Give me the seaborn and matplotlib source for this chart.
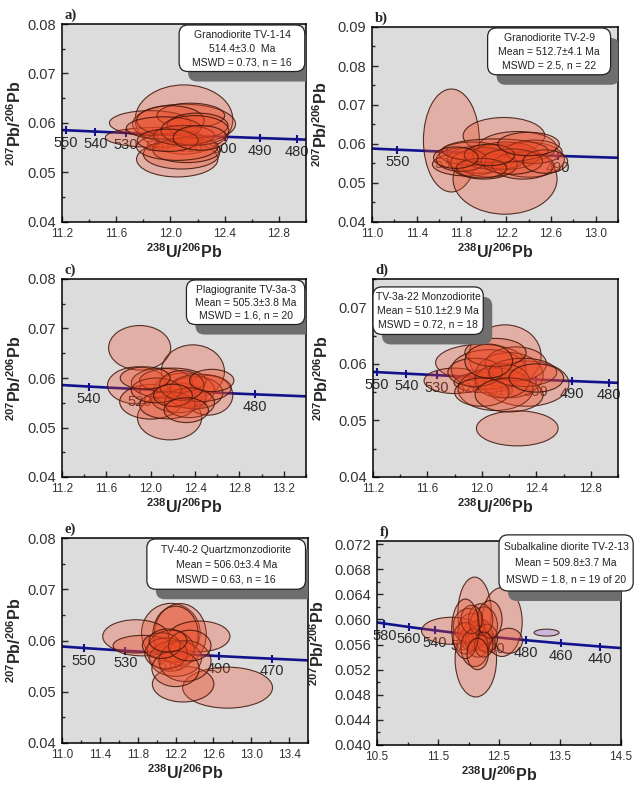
import numpy as np
import pandas as pd
import matplotlib
matplotlib.use('Agg')
import matplotlib.pyplot as plt
import seaborn as sns
from matplotlib.patches import Ellipse, FancyBboxPatch
from matplotlib.ticker import FormatStrFormatter

# concordia reference nodes: age (Ma), 238U/206Pb, 207Pb/206Pb
conc_age = [420, 440, 460, 470, 480, 490, 500, 510, 520, 530, 540, 550, 560, 580, 600]
conc_x = [14.855, 14.157, 13.520, 13.222, 12.936, 12.662, 12.399, 12.147, 11.904,
          11.670, 11.445, 11.228, 11.019, 10.622, 10.252]
conc_y = [0.05519, 0.05569, 0.05619, 0.05645, 0.05670, 0.05696, 0.05722, 0.05748,
          0.05774, 0.05800, 0.05827, 0.05854, 0.05881, 0.05935, 0.05990]

# a) Granodiorite TV-1-14 : ellipse centres and full widths (2 sigma)
a_x = [12.10, 11.88, 12.10, 11.85, 12.05, 12.08, 12.12, 12.05, 12.15, 12.00, 12.20, 11.95, 12.10, 12.18, 11.98, 12.22]
a_y = [0.0607, 0.0571, 0.0598, 0.0600, 0.0527, 0.0537, 0.0545, 0.0552, 0.0615, 0.0605, 0.0595, 0.0590, 0.0575, 0.0585, 0.0565, 0.0570]
a_w = [0.72, 0.72, 0.76, 0.60, 0.60, 0.56, 0.50, 0.60, 0.50, 0.50, 0.45, 0.55, 0.45, 0.50, 0.45, 0.40]
a_h = [0.0140, 0.0040, 0.0080, 0.0050, 0.0072, 0.0060, 0.0050, 0.0055, 0.0050, 0.0060, 0.0050, 0.0045, 0.0040, 0.0060, 0.0045, 0.0050]
a_ages = [550, 540, 530, 520, 510, 500, 490, 480]

# b) Granodiorite TV-2-9
b_x = [11.71, 12.19, 12.18, 11.85, 12.40, 12.30, 11.95, 12.05, 12.10, 11.90, 12.00, 12.20, 12.35, 12.45, 11.80, 12.10, 12.25, 11.98, 12.55, 12.05, 11.75, 12.40]
b_y = [0.0609, 0.0510, 0.0621, 0.0548, 0.0560, 0.0592, 0.0560, 0.0545, 0.0560, 0.0575, 0.0550, 0.0570, 0.0545, 0.0580, 0.0560, 0.0583, 0.0555, 0.0538, 0.0555, 0.0572, 0.0565, 0.0600]
b_w = [0.50, 0.93, 0.73, 0.62, 0.64, 0.70, 0.55, 0.50, 0.55, 0.60, 0.60, 0.60, 0.55, 0.50, 0.45, 0.95, 0.55, 0.45, 0.40, 0.45, 0.40, 0.55]
b_h = [0.0264, 0.0180, 0.0094, 0.0060, 0.0090, 0.0080, 0.0070, 0.0060, 0.0050, 0.0060, 0.0080, 0.0070, 0.0070, 0.0060, 0.0060, 0.0060, 0.0065, 0.0050, 0.0060, 0.0055, 0.0055, 0.0060]
b_ages = [550, 530, 510, 490]

# c) Plagiogranite TV-3a-3
c_x = [11.90, 12.38, 11.88, 12.17, 12.52, 12.00, 12.30, 12.25, 12.40, 12.10, 12.20, 12.45, 12.15, 12.35, 12.05, 12.28, 12.55, 12.20, 11.95, 12.32]
c_y = [0.0661, 0.0613, 0.0585, 0.0520, 0.0565, 0.0552, 0.0575, 0.0560, 0.0570, 0.0590, 0.0595, 0.0580, 0.0545, 0.0550, 0.0575, 0.0585, 0.0595, 0.0565, 0.0600, 0.0535]
c_w = [0.56, 0.57, 0.54, 0.58, 0.44, 0.56, 0.55, 0.50, 0.50, 0.55, 0.60, 0.55, 0.50, 0.45, 0.45, 0.40, 0.40, 0.35, 0.45, 0.40]
c_h = [0.0090, 0.0108, 0.0075, 0.0090, 0.0080, 0.0070, 0.0070, 0.0060, 0.0065, 0.0060, 0.0050, 0.0055, 0.0055, 0.0060, 0.0050, 0.0060, 0.0045, 0.0045, 0.0045, 0.0050]
c_ages = [540, 520, 500, 480]

# d) TV-3a-22 Monzodiorite
d_x = [12.26, 12.17, 11.99, 11.80, 12.33, 12.02, 12.05, 12.20, 12.10, 12.25, 12.15, 11.95, 12.30, 12.00, 12.20, 12.10, 12.40, 12.05]
d_y = [0.0486, 0.0614, 0.0602, 0.0570, 0.0565, 0.0567, 0.0590, 0.0580, 0.0555, 0.0600, 0.0570, 0.0585, 0.0585, 0.0550, 0.0545, 0.0620, 0.0575, 0.0605]
d_w = [0.60, 0.53, 0.66, 0.45, 0.62, 0.45, 0.55, 0.50, 0.55, 0.45, 0.40, 0.40, 0.50, 0.40, 0.50, 0.45, 0.40, 0.35]
d_h = [0.0062, 0.0110, 0.0065, 0.0045, 0.0080, 0.0036, 0.0070, 0.0080, 0.0075, 0.0060, 0.0060, 0.0050, 0.0050, 0.0050, 0.0060, 0.0050, 0.0050, 0.0060]
d_ages = [550, 540, 530, 520, 510, 500, 490, 480]

# e) TV-40-2 Quartzmonzodiorite
e_x = [12.15, 12.25, 12.20, 11.78, 11.85, 12.45, 12.75, 12.28, 12.15, 12.20, 12.10, 12.30, 12.20, 12.05, 12.35, 12.12]
e_y = [0.0615, 0.0612, 0.0612, 0.0608, 0.0590, 0.0608, 0.0508, 0.0515, 0.0580, 0.0565, 0.0575, 0.0560, 0.0545, 0.0590, 0.0590, 0.0600]
e_w = [0.62, 0.55, 0.48, 0.70, 0.62, 0.65, 0.95, 0.65, 0.50, 0.55, 0.45, 0.55, 0.50, 0.40, 0.45, 0.40]
e_h = [0.0115, 0.0120, 0.0110, 0.0065, 0.0040, 0.0060, 0.0080, 0.0070, 0.0080, 0.0070, 0.0060, 0.0080, 0.0070, 0.0050, 0.0060, 0.0045]
e_ages = [550, 530, 510, 490, 470]

# f) Subalkaline diorite TV-2-13 (19 used + 1 rejected)
f_x = [12.12, 12.10, 12.55, 11.72, 12.66, 12.05, 12.20, 12.00, 12.25, 12.15, 12.30, 11.95, 12.10, 12.20, 12.35, 12.05, 12.25, 11.95, 12.15]
f_y = [0.0537, 0.0610, 0.0596, 0.0582, 0.0566, 0.0580, 0.0575, 0.0590, 0.0590, 0.0565, 0.0570, 0.0570, 0.0555, 0.0600, 0.0600, 0.0600, 0.0560, 0.0585, 0.0545]
f_w = [0.68, 0.55, 0.66, 0.98, 0.45, 0.45, 0.40, 0.50, 0.45, 0.40, 0.35, 0.40, 0.45, 0.40, 0.40, 0.35, 0.30, 0.45, 0.35]
f_h = [0.0121, 0.0115, 0.0110, 0.0043, 0.0040, 0.0060, 0.0050, 0.0055, 0.0060, 0.0050, 0.0045, 0.0050, 0.0060, 0.0050, 0.0060, 0.0045, 0.0040, 0.0095, 0.0050]
f_rej_x = [13.28]
f_rej_y = [0.0579]
f_rej_w = [0.41]
f_rej_h = [0.0011]
f_ages = [580, 560, 540, 520, 500, 480, 460, 440]

box_text = {
    'a': ['Granodiorite TV-1-14', '514.4\u00b13.0  Ma', 'MSWD = 0.73, n = 16'],
    'b': ['Granodiorite TV-2-9', 'Mean = 512.7\u00b14.1 Ma', 'MSWD = 2.5, n = 22'],
    'c': ['Plagiogranite TV-3a-3', 'Mean = 505.3\u00b13.8 Ma', 'MSWD = 1.6, n = 20'],
    'd': ['TV-3a-22 Monzodiorite', 'Mean = 510.1\u00b12.9 Ma', 'MSWD = 0.72, n = 18'],
    'e': ['TV-40-2 Quartzmonzodiorite', 'Mean = 506.0\u00b13.4 Ma', 'MSWD = 0.63, n = 16'],
    'f': ['Subalkaline diorite TV-2-13', 'Mean = 509.8\u00b13.7 Ma', 'MSWD = 1.8, n = 19 of 20'],
}

sns.set_style('ticks', {'axes.facecolor': '#dcdcdc', 'axes.edgecolor': 'black',
                        'xtick.direction': 'in', 'ytick.direction': 'in'})
plt.rcParams['font.family'] = ['Liberation Sans', 'DejaVu Sans']
plt.rcParams['mathtext.fontset'] = 'custom'
plt.rcParams['mathtext.rm'] = 'Liberation Sans:bold'
plt.rcParams['mathtext.bf'] = 'Liberation Sans:bold'

BLUE = '#12128c'
FILL = (0.93, 0.29, 0.15, 0.30)
EDGE = (0.24, 0.08, 0.04, 0.85)

W, H = 634, 787
fig = plt.figure(figsize=(W / 100, H / 100), dpi=100)

# pixel layout: left, right, top, bottom of each axes
panels = [
    dict(key='a', px=(62, 306, 24, 222), xlim=(11.2, 13.0), ylim=(0.04, 0.08), xt=(11.2, 0.4), xm=0.2, yt=0.01, ym=0.005, yf='%.2f',
         data=(a_x, a_y, a_w, a_h), ages=a_ages, box=(0.48, 0.76, 0.995, 0.995), ylx=-0.155),
    dict(key='b', px=(372, 618, 27, 222), xlim=(11.0, 13.2), ylim=(0.04, 0.09), xt=(11.0, 0.4), xm=0.2, yt=0.01, ym=0.005, yf='%.2f',
         data=(b_x, b_y, b_w, b_h), ages=b_ages, box=(0.47, 0.755, 0.97, 0.995), ylx=-0.17),
    dict(key='c', px=(62, 306, 279, 477), xlim=(11.2, 13.4), ylim=(0.04, 0.08), xt=(11.2, 0.4), xm=0.2, yt=0.01, ym=0.005, yf='%.2f',
         data=(c_x, c_y, c_w, c_h), ages=c_ages, box=(0.51, 0.77, 0.995, 0.995), ylx=-0.155),
    dict(key='d', px=(373, 618, 279, 477), xlim=(11.2, 13.0), ylim=(0.04, 0.075), xt=(11.2, 0.4), xm=0.2, yt=0.01, ym=0.005, yf='%.2f',
         data=(d_x, d_y, d_w, d_h), ages=d_ages, box=(0.0, 0.72, 0.45, 0.96), ylx=-0.17),
    dict(key='e', px=(62, 308, 538, 743), xlim=(11.0, 13.6), ylim=(0.04, 0.08), xt=(11.0, 0.4), xm=0.2, yt=0.01, ym=0.005, yf='%.2f',
         data=(e_x, e_y, e_w, e_h), ages=e_ages, box=(0.345, 0.75, 0.99, 0.995), ylx=-0.155),
    dict(key='f', px=(377, 621, 541, 745), xlim=(10.5, 14.5), ylim=(0.040, 0.0725), xt=(10.5, 1.0), xm=0.5, yt=0.004, ym=0.002, yf='%.3f',
         data=(f_x, f_y, f_w, f_h), ages=f_ages, box=(0.50, 0.755, 1.05, 1.03), ylx=-0.205),
]

conc = pd.DataFrame({'age': conc_age, 'x': conc_x, 'y': conc_y})

for p in panels:
    l, r, t, b = p['px']
    ax = fig.add_axes([l / W, 1 - b / H, (r - l) / W, (b - t) / H])
    ax_w, ax_h = r - l, b - t

    # concordia curve + age marks
    sns.lineplot(data=conc, x='x', y='y', sort=False, color=BLUE, lw=1.9, ax=ax, zorder=2)
    marks = conc[conc['age'].isin(p['ages'])]
    sns.scatterplot(data=marks, x='x', y='y', marker='|', s=40, linewidth=1.5, color=BLUE, ax=ax, zorder=2)
    for _, row in marks.iterrows():
        ax.annotate(str(int(row['age'])), (row['x'], row['y']), xytext=(0, -4), textcoords='offset points',
                    ha='center', va='top', fontsize=10.5, color='#2a2a2a', zorder=2)

    # error ellipses
    xs, ys, ws, hs = p['data']
    for x, y, w, h in zip(xs, ys, ws, hs):
        ax.add_patch(Ellipse((x, y), w, h, facecolor=FILL, edgecolor=EDGE, lw=0.8, zorder=3))
    if p['key'] == 'f':
        for x, y, w, h in zip(f_rej_x, f_rej_y, f_rej_w, f_rej_h):
            ax.add_patch(Ellipse((x, y), w, h, facecolor='#c9b8d9', edgecolor=EDGE, lw=0.8, zorder=3))

    ax.set_xlim(*p['xlim'])
    ax.set_ylim(*p['ylim'])
    x0, dx = p['xt']
    ax.set_xticks(np.round(np.arange(x0, p['xlim'][1] + 1e-6, dx), 3))
    ax.set_xticks(np.round(np.arange(p['xlim'][0], p['xlim'][1] + 1e-6, p['xm']), 3), minor=True)
    ax.set_yticks(np.round(np.arange(p['ylim'][0], p['ylim'][1] + 1e-9, p['yt']), 4))
    ax.set_yticks(np.round(np.arange(p['ylim'][0], p['ylim'][1] + 1e-9, p['ym']), 4), minor=True)
    ax.xaxis.set_major_formatter(FormatStrFormatter('%.1f'))
    ax.yaxis.set_major_formatter(FormatStrFormatter(p['yf']))
    ax.tick_params(axis='x', which='major', labelsize=8.5, length=4, width=1, pad=4, labelcolor='#333333')
    ax.tick_params(axis='y', which='major', labelsize=10.5, length=4, width=1, pad=4, labelcolor='#333333')
    ax.tick_params(which='minor', length=2.5, width=1)
    for s in ax.spines.values():
        s.set_linewidth(1.1)

    ax.set_xlabel(r'$^{238}$U/$^{206}$Pb', fontsize=11.5, fontweight='bold', labelpad=2)
    ax.set_ylabel(r'$^{207}$Pb/$^{206}$Pb', fontsize=11.5, fontweight='bold')
    ax.yaxis.set_label_coords(p['ylx'], 0.5)

    ax.text(0.01, 1.01, p['key'] + ')', transform=ax.transAxes, ha='left', va='bottom',
            fontsize=10.5, fontweight='bold', family=['Liberation Serif', 'DejaVu Serif'])

    # result box with drop shadow
    bx0, by0, bx1, by1 = p['box']
    asp = ax_w / ax_h
    rr = 9 / ax_w
    shadow = FancyBboxPatch((bx0 + 9 / ax_w, by0 - 10 / ax_h), bx1 - bx0, by1 - by0,
                            boxstyle='round,pad=0,rounding_size=%f' % rr, mutation_aspect=asp,
                            transform=ax.transAxes, facecolor='#6e6e6e', edgecolor='none', zorder=5)
    ax.add_patch(shadow)
    box = FancyBboxPatch((bx0, by0), bx1 - bx0, by1 - by0,
                         boxstyle='round,pad=0,rounding_size=%f' % rr, mutation_aspect=asp,
                         transform=ax.transAxes, facecolor='white', edgecolor='#222222', lw=0.9,
                         zorder=6, clip_on=False)
    ax.add_patch(box)
    cx = (bx0 + bx1) / 2
    hgt = by1 - by0
    for i, line in enumerate(box_text[p['key']]):
        ax.text(cx, by1 - hgt * (0.22 + 0.29 * i), line, transform=ax.transAxes, ha='center', va='center',
                fontsize=7.5, color='#222222', zorder=7, clip_on=False)

fig.savefig('out.png', dpi=100)
